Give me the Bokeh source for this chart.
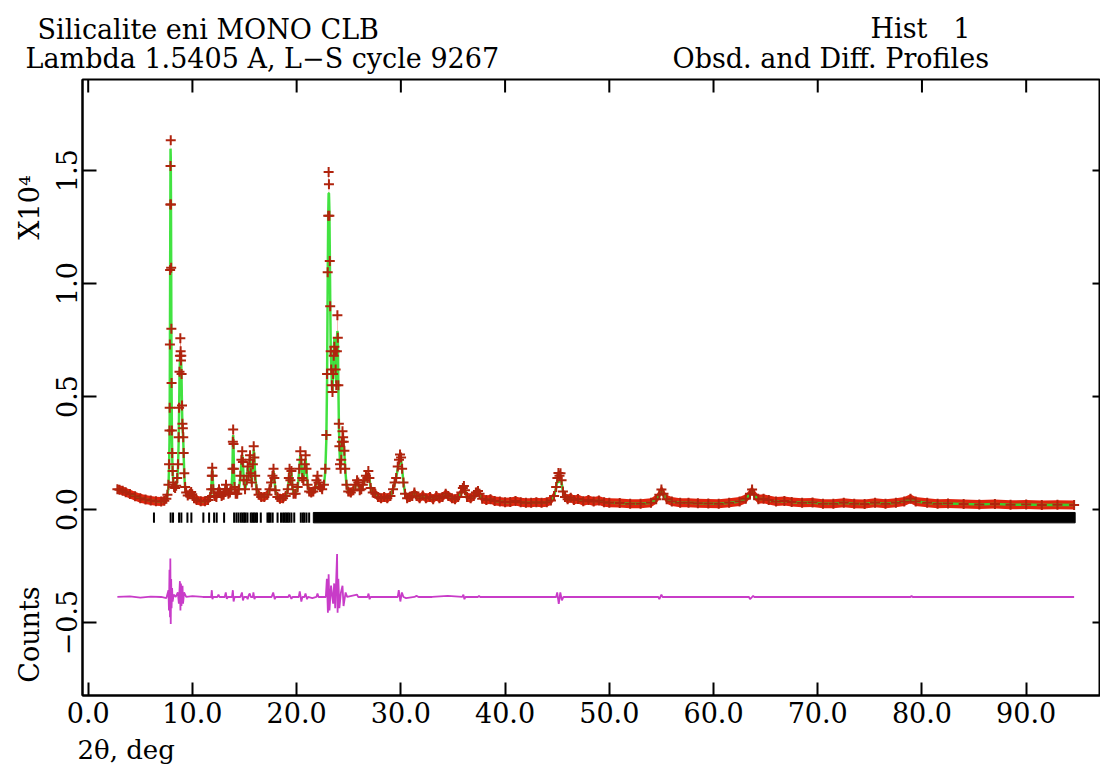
import math
from bokeh.plotting import figure
from bokeh.layouts import column, row
from bokeh.models import Range1d, FixedTicker, CustomJSTickFormatter
from bokeh.embed import file_html
from bokeh.resources import INLINE
from bokeh.core.properties import value

# ---------------- data (intensities in units of 10^4 counts) ----------------
two_theta = [2.80, 3.00, 3.30, 3.60, 4.00, 4.50, 5.00, 5.50, 6.00, 6.50, 7.00, 7.30, 7.50, 7.60, 7.70,
             7.76, 7.80, 7.82, 7.84, 7.86, 7.88, 7.90, 7.92, 7.94, 7.96, 7.98, 8.00, 8.03, 8.06, 8.10,
             8.16, 8.24, 8.34, 8.44, 8.54, 8.62, 8.68, 8.72, 8.76, 8.80, 8.84, 8.87, 8.90, 8.93, 8.96,
             9.00, 9.04, 9.08, 9.12, 9.16, 9.22, 9.30, 9.40, 9.55, 9.75, 9.88, 9.98, 10.15, 10.40, 10.80,
             11.20, 11.50, 11.70, 11.80, 11.86, 11.90, 11.94, 12.00, 12.10, 12.30, 12.45, 12.55, 12.65, 12.80, 13.00,
             13.15, 13.22, 13.30, 13.45, 13.60, 13.75, 13.84, 13.88, 13.91, 13.94, 13.98, 14.04, 14.15, 14.30, 14.45,
             14.60, 14.70, 14.78, 14.84, 14.92, 15.05, 15.20, 15.30, 15.40, 15.48, 15.53, 15.60, 15.70, 15.80, 15.88,
             15.94, 16.02, 16.15, 16.35, 16.60, 16.90, 17.20, 17.40, 17.55, 17.68, 17.78, 17.86, 17.96, 18.15, 18.40,
             18.70, 18.95, 19.15, 19.25, 19.32, 19.40, 19.50, 19.58, 19.70, 19.90, 20.10, 20.25, 20.35, 20.44, 20.54,
             20.65, 20.78, 20.86, 20.94, 21.05, 21.20, 21.40, 21.60, 21.78, 21.90, 22.00, 22.10, 22.25, 22.45, 22.62,
             22.75, 22.85, 22.92, 22.98, 23.03, 23.07, 23.10, 23.14, 23.18, 23.22, 23.27, 23.32, 23.38, 23.44, 23.50,
             23.56, 23.62, 23.68, 23.74, 23.80, 23.86, 23.91, 23.95, 24.00, 24.05, 24.10, 24.16, 24.22, 24.28, 24.34,
             24.40, 24.46, 24.52, 24.58, 24.66, 24.78, 24.95, 25.20, 25.45, 25.65, 25.80, 25.92, 26.05, 26.20, 26.35,
             26.50, 26.65, 26.78, 26.88, 26.98, 27.10, 27.30, 27.55, 27.80, 28.10, 28.40, 28.70, 29.00, 29.25, 29.40,
             29.55, 29.70, 29.82, 29.92, 30.02, 30.12, 30.25, 30.40, 30.60, 30.85, 31.10, 31.30, 31.50, 31.80, 32.10,
             32.40, 32.80, 33.10, 33.40, 33.70, 34.00, 34.30, 34.55, 34.90, 35.20, 35.50, 35.80, 35.95, 36.05, 36.15,
             36.35, 36.70, 37.00, 37.20, 37.40, 37.55, 37.80, 38.20, 38.60, 39.00, 39.50, 40.00, 40.50, 41.00, 41.50,
             42.00, 42.50, 43.00, 43.50, 44.00, 44.40, 44.70, 44.90, 45.02, 45.12, 45.22, 45.32, 45.42, 45.55, 45.75,
             46.00, 46.30, 46.60, 47.00, 47.50, 48.00, 48.50, 49.00, 49.50, 50.00, 51.00, 52.00, 53.00, 54.00, 54.50,
             54.80, 55.00, 55.20, 55.50, 56.00, 56.80, 57.60, 58.50, 59.50, 60.50, 61.50, 62.50, 63.10, 63.50, 63.70,
             63.90, 64.30, 64.80, 65.30, 66.00, 66.80, 67.50, 68.50, 69.50, 70.50, 71.50, 72.50, 73.50, 74.50, 75.50,
             76.50, 77.50, 78.30, 78.90, 79.40, 80.50, 81.50, 82.50, 84.00, 85.50, 87.00, 88.50, 90.00, 91.50, 93.00,
             94.60]

obs = [0.090, 0.088, 0.083, 0.077, 0.069, 0.059, 0.050, 0.044, 0.040, 0.037, 0.036, 0.039, 0.048, 0.065, 0.110,
       0.200, 0.350, 0.450, 0.730, 1.060, 1.350, 1.520, 1.634, 1.350, 1.070, 0.800, 0.560, 0.350, 0.250, 0.170,
       0.120, 0.100, 0.095, 0.105, 0.140, 0.200, 0.320, 0.450, 0.610, 0.680, 0.758, 0.700, 0.660, 0.680, 0.600,
       0.460, 0.380, 0.360, 0.320, 0.250, 0.160, 0.100, 0.075, 0.062, 0.070, 0.078, 0.068, 0.050, 0.042, 0.037,
       0.037, 0.042, 0.055, 0.090, 0.150, 0.185, 0.150, 0.090, 0.060, 0.055, 0.075, 0.090, 0.075, 0.060, 0.065,
       0.090, 0.110, 0.090, 0.070, 0.075, 0.090, 0.180, 0.300, 0.354, 0.290, 0.180, 0.100, 0.070, 0.070, 0.090,
       0.150, 0.220, 0.258, 0.210, 0.130, 0.090, 0.130, 0.190, 0.150, 0.220, 0.240, 0.160, 0.120, 0.200, 0.280,
       0.230, 0.150, 0.090, 0.065, 0.055, 0.055, 0.065, 0.090, 0.120, 0.150, 0.180, 0.140, 0.085, 0.055, 0.048,
       0.050, 0.060, 0.090, 0.140, 0.180, 0.130, 0.170, 0.110, 0.070, 0.070, 0.100, 0.180, 0.258, 0.220, 0.140,
       0.130, 0.200, 0.240, 0.180, 0.110, 0.080, 0.075, 0.080, 0.095, 0.130, 0.150, 0.120, 0.100, 0.090, 0.110,
       0.180, 0.330, 0.600, 1.050, 1.300, 1.494, 1.440, 1.300, 1.100, 0.900, 0.700, 0.620, 0.550, 0.520, 0.600,
       0.680, 0.720, 0.700, 0.620, 0.550, 0.700, 0.860, 0.760, 0.550, 0.380, 0.280, 0.200, 0.180, 0.220, 0.300,
       0.346, 0.320, 0.300, 0.260, 0.180, 0.110, 0.080, 0.075, 0.085, 0.110, 0.130, 0.120, 0.085, 0.090, 0.110,
       0.130, 0.150, 0.140, 0.170, 0.140, 0.095, 0.075, 0.070, 0.055, 0.050, 0.055, 0.050, 0.060, 0.090, 0.120,
       0.140, 0.190, 0.220, 0.244, 0.230, 0.180, 0.120, 0.070, 0.050, 0.055, 0.060, 0.075, 0.060, 0.050, 0.062,
       0.050, 0.055, 0.045, 0.060, 0.050, 0.055, 0.070, 0.060, 0.050, 0.045, 0.055, 0.075, 0.095, 0.104, 0.085,
       0.055, 0.050, 0.060, 0.075, 0.082, 0.070, 0.048, 0.042, 0.045, 0.038, 0.036, 0.032, 0.033, 0.038, 0.032,
       0.030, 0.030, 0.032, 0.030, 0.032, 0.040, 0.060, 0.100, 0.140, 0.162, 0.150, 0.160, 0.130, 0.080, 0.055,
       0.045, 0.052, 0.042, 0.047, 0.037, 0.042, 0.036, 0.040, 0.032, 0.030, 0.029, 0.026, 0.026, 0.030, 0.045,
       0.065, 0.089, 0.070, 0.045, 0.035, 0.030, 0.030, 0.028, 0.027, 0.026, 0.030, 0.035, 0.048, 0.070, 0.089,
       0.065, 0.045, 0.048, 0.042, 0.035, 0.038, 0.033, 0.030, 0.031, 0.026, 0.026, 0.030, 0.026, 0.025, 0.030,
       0.026, 0.030, 0.036, 0.048, 0.036, 0.030, 0.026, 0.027, 0.025, 0.022, 0.025, 0.021, 0.022, 0.020, 0.021,
       0.020]

calc = [0.088, 0.087, 0.083, 0.077, 0.069, 0.059, 0.050, 0.044, 0.040, 0.037, 0.036, 0.038, 0.046, 0.062, 0.100,
        0.190, 0.300, 0.420, 0.680, 1.000, 1.300, 1.597, 1.560, 1.380, 1.100, 0.780, 0.540, 0.340, 0.240, 0.170,
        0.120, 0.100, 0.095, 0.100, 0.130, 0.190, 0.300, 0.430, 0.580, 0.650, 0.690, 0.680, 0.660, 0.640, 0.570,
        0.450, 0.370, 0.340, 0.310, 0.240, 0.150, 0.095, 0.072, 0.060, 0.068, 0.075, 0.066, 0.050, 0.042, 0.037,
        0.037, 0.041, 0.053, 0.085, 0.145, 0.178, 0.150, 0.088, 0.058, 0.055, 0.072, 0.088, 0.075, 0.060, 0.063,
        0.088, 0.105, 0.090, 0.070, 0.072, 0.088, 0.170, 0.290, 0.330, 0.300, 0.180, 0.100, 0.070, 0.068, 0.088,
        0.140, 0.210, 0.240, 0.220, 0.130, 0.090, 0.120, 0.185, 0.150, 0.210, 0.230, 0.160, 0.115, 0.190, 0.265,
        0.230, 0.150, 0.090, 0.065, 0.055, 0.055, 0.065, 0.088, 0.115, 0.145, 0.170, 0.140, 0.085, 0.055, 0.048,
        0.050, 0.060, 0.088, 0.135, 0.170, 0.130, 0.165, 0.110, 0.070, 0.070, 0.095, 0.175, 0.240, 0.220, 0.140,
        0.130, 0.195, 0.225, 0.180, 0.110, 0.080, 0.075, 0.080, 0.090, 0.120, 0.130, 0.115, 0.100, 0.090, 0.105,
        0.170, 0.310, 0.570, 1.000, 1.300, 1.400, 1.400, 1.330, 1.150, 0.930, 0.720, 0.640, 0.560, 0.520, 0.620,
        0.700, 0.760, 0.720, 0.600, 0.560, 0.750, 0.790, 0.780, 0.560, 0.390, 0.280, 0.210, 0.190, 0.230, 0.290,
        0.320, 0.310, 0.280, 0.250, 0.180, 0.110, 0.080, 0.075, 0.085, 0.105, 0.125, 0.115, 0.085, 0.090, 0.105,
        0.125, 0.145, 0.140, 0.160, 0.140, 0.095, 0.075, 0.070, 0.055, 0.050, 0.055, 0.050, 0.058, 0.088, 0.115,
        0.140, 0.180, 0.200, 0.225, 0.220, 0.180, 0.120, 0.070, 0.050, 0.055, 0.058, 0.072, 0.060, 0.050, 0.060,
        0.050, 0.055, 0.045, 0.058, 0.050, 0.055, 0.068, 0.058, 0.050, 0.045, 0.055, 0.072, 0.090, 0.095, 0.085,
        0.055, 0.050, 0.060, 0.072, 0.080, 0.068, 0.048, 0.042, 0.045, 0.038, 0.036, 0.032, 0.033, 0.036, 0.032,
        0.030, 0.030, 0.032, 0.030, 0.032, 0.040, 0.058, 0.095, 0.130, 0.120, 0.125, 0.130, 0.120, 0.080, 0.055,
        0.045, 0.052, 0.042, 0.047, 0.037, 0.042, 0.036, 0.040, 0.032, 0.030, 0.029, 0.026, 0.026, 0.030, 0.045,
        0.062, 0.080, 0.068, 0.045, 0.035, 0.030, 0.030, 0.028, 0.027, 0.026, 0.030, 0.035, 0.048, 0.068, 0.082,
        0.063, 0.045, 0.048, 0.042, 0.035, 0.038, 0.033, 0.030, 0.031, 0.026, 0.026, 0.030, 0.026, 0.025, 0.030,
        0.026, 0.030, 0.036, 0.046, 0.036, 0.030, 0.026, 0.027, 0.025, 0.022, 0.025, 0.021, 0.022, 0.020, 0.021,
        0.020]

# difference curve (obs - calc)
diff_two_theta = [2.8, 4.0, 5.0, 6.0, 7.0, 7.5, 7.70, 7.75, 7.80, 7.85, 7.88, 7.92, 7.96, 8.00, 8.05,
                  8.10, 8.20, 8.40, 8.60, 8.70, 8.80, 8.85, 8.90, 8.95, 9.05, 9.10, 9.20, 9.40, 10.0, 11.0,
                  11.80, 11.86, 11.92, 12.00, 12.40, 12.50, 12.60, 13.10, 13.20, 13.30, 13.40, 13.80, 13.88, 13.95, 14.05,
                  14.60, 14.75, 14.85, 14.95, 15.20, 15.30, 15.40, 15.50, 15.60, 15.80, 15.85, 15.95, 16.05, 17.60, 17.75,
                  17.90, 18.00, 19.20, 19.30, 19.50, 19.60, 20.20, 20.30, 20.45, 20.55, 20.75, 20.85, 21.00, 21.10, 21.50,
                  21.90, 22.00, 22.10, 22.80, 22.90, 23.00, 23.07, 23.15, 23.30, 23.50, 23.60, 23.70, 23.88, 23.93, 24.00,
                  24.10, 24.25, 24.40, 24.50, 24.70, 24.85, 25.80, 25.90, 26.80, 26.90, 27.00, 27.10, 29.70, 29.80, 29.95,
                  30.10, 30.25, 30.50, 31.30, 31.50, 31.70, 33.00, 34.50, 35.90, 36.00, 36.10, 36.20, 37.40, 37.50, 37.60,
                  44.90, 45.00, 45.15, 45.30, 45.45, 45.60, 54.70, 54.80, 55.00, 55.10, 63.40, 63.50, 63.80, 63.90, 78.90,
                  79.00, 79.10, 94.60]
diff_vals = [0.000, 0.003, -0.003, 0.002, 0.000, -0.005, 0.030, -0.060, 0.120, -0.090, 0.170, -0.120, 0.080, -0.050, 0.040,
             -0.020, 0.010, 0.000, 0.020, -0.030, 0.070, -0.060, 0.060, -0.040, 0.050, -0.030, 0.020, 0.000, 0.004, 0.000,
             0.000, 0.030, -0.010, 0.000, 0.000, 0.010, 0.000, 0.000, 0.020, -0.008, 0.000, 0.000, 0.030, -0.020, 0.000,
             0.000, 0.020, -0.015, 0.000, 0.000, -0.010, 0.008, 0.015, 0.000, 0.000, 0.020, -0.010, 0.000, 0.000, 0.020,
             -0.010, 0.000, 0.000, 0.010, -0.008, 0.000, 0.000, 0.025, -0.020, 0.000, 0.000, 0.015, -0.010, 0.000, -0.005,
             0.000, 0.015, 0.000, 0.000, 0.080, -0.070, 0.100, -0.060, 0.050, -0.030, 0.060, -0.050, 0.190, -0.070, 0.080,
             -0.050, 0.020, 0.050, -0.040, 0.020, 0.000, 0.010, 0.000, 0.000, 0.015, -0.010, 0.000, 0.000, 0.030, -0.020,
             0.020, 0.000, -0.005, 0.000, 0.005, 0.000, 0.000, 0.005, 0.000, 0.010, -0.010, 0.000, 0.000, 0.005, 0.000,
             0.000, 0.020, -0.030, 0.020, -0.015, 0.000, 0.000, -0.010, 0.010, 0.000, 0.000, -0.010, 0.005, 0.000, 0.000,
             0.005, 0.000, 0.000]

# reflection positions (individual ticks) and the dense, merged region
refl_positions = [6.31, 7.91, 8.14, 8.72, 8.94, 9.52, 9.90, 11.05, 11.60, 12.08, 12.33, 13.04,
                  14.00, 14.22, 14.42, 14.64, 14.80, 14.96, 15.10, 15.28, 15.60, 15.75, 15.90, 16.05,
                  16.20, 16.56, 17.20, 17.35, 17.50, 17.70, 18.17, 18.50, 18.70, 18.85, 19.00, 19.15,
                  19.30, 19.50, 19.77, 20.40, 20.60, 20.75, 20.95, 21.20]
refl_dense_start = [21.6]
refl_dense_end = [94.7]

x_ticks = [0, 10, 20, 30, 40, 50, 60, 70, 80, 90]
x_tick_labels = ["0.0", "10.0", "20.0", "30.0", "40.0", "50.0", "60.0", "70.0", "80.0", "90.0"]
y_ticks = [-0.5, 0.0, 0.5, 1.0, 1.5]
y_tick_labels = ["\u22120.5", "0.0", "0.5", "1.0", "1.5"]

title_left = ["Silicalite eni MONO CLB", "Lambda 1.5405 A, L\u2212S cycle 9267"]
title_right = ["Hist\u00a0\u00a0 1", "Obsd. and Diff. Profiles"]
y_titles = ["X10\u2074", "Counts"]
x_title = "2\u03b8, deg"

# ---------------- layout / style constants ----------------
FONT = "DejaVu Serif"
FS = "27px"
W, H = 1100, 765
HEAD_H, LEFT_W = 76, 45
BORDER_T, BORDER_B, BORDER_L = 3, 39, 37
FRAME_T, FRAME_B = HEAD_H + BORDER_T, HEAD_H + BORDER_T + 616   # page rows of the plot frame
MAIN_H = BORDER_T + 616 + BORDER_B
X0 = -0.547
PXD = 10.422                      # px per degree
X1 = X0 + 1018 / PXD
Y0, Y1 = -0.823, 1.903
PXU = 616 / (Y1 - Y0)             # px per 10^4 counts
DIFF_OFFSET = -0.387
REFL_TOP, REFL_BOTTOM = -0.013, -0.059
BAND_HALF = 4.5 / PXU             # half height of the observed-point band


def blank(width, height, xr, yr):
    f = figure(width=width, height=height, x_range=Range1d(*xr), y_range=Range1d(*yr),
               x_axis_type=None, y_axis_type=None, output_backend="svg", toolbar_location=None,
               min_border=0, min_border_left=0, min_border_right=0, min_border_top=0, min_border_bottom=0)
    f.outline_line_color = None
    f.grid.visible = False
    f.background_fill_color = "white"
    f.border_fill_color = "white"
    return f


# ---------- header (two title lines, y = page row of the text middle) ----------
head = blank(W, HEAD_H, (0, W), (HEAD_H, 0))
head.text(x=[37, 25], y=[29, 58], text=title_left, text_font=value(FONT), text_font_size=value(FS),
          text_align="left", text_baseline="middle", text_color="black")
head.text(x=[870, 672], y=[28, 58], text=title_right, text_font=value(FONT), text_font_size=value(FS),
          text_align="left", text_baseline="middle", text_color="black")

# ---------- left strip (rotated axis titles); its frame is aligned with the plot frame ----------
left = blank(LEFT_W, MAIN_H, (0, LEFT_W), (FRAME_B, FRAME_T))
left.text(x=[29, 29], y=[207, 634], text=y_titles, angle=math.pi / 2, text_font=value(FONT),
          text_font_size=value(FS), text_align="center", text_baseline="middle", text_color="black")

# ---------- main plot ----------
p = figure(width=W - LEFT_W, height=MAIN_H, x_range=Range1d(X0, X1), y_range=Range1d(Y0, Y1),
           output_backend="svg", toolbar_location=None,
           min_border_left=BORDER_L, min_border_right=0, min_border_top=BORDER_T, min_border_bottom=BORDER_B)
p.outline_line_color = "black"
p.outline_line_width = 2
p.grid.visible = False
p.background_fill_color = "white"
p.border_fill_color = "white"

LOOKUP = ("const i = tick_vals.findIndex(t => Math.abs(t - tick) < 1e-9); "
          "return i >= 0 ? tick_text[i] : '';")
for ax, tv, tl, tin in ((p.xaxis[0], x_ticks, x_tick_labels, 13), (p.yaxis[0], y_ticks, y_tick_labels, 14)):
    ax.ticker = FixedTicker(ticks=tv)
    ax.formatter = CustomJSTickFormatter(args=dict(tick_vals=tv, tick_text=tl), code=LOOKUP)
    ax.axis_line_width = 2
    ax.axis_line_color = "black"
    ax.major_tick_in = tin
    ax.major_tick_out = 0
    ax.major_tick_line_width = 2
    ax.minor_tick_line_color = None
    ax.major_label_text_font = FONT
    ax.major_label_text_font_size = FS
    ax.major_label_text_color = "black"
p.xaxis[0].major_label_standoff = 6
p.yaxis[0].major_label_orientation = "vertical"
p.yaxis[0].major_label_standoff = 5

# inward ticks on the top and right edges of the frame
p.segment(x0=x_ticks, y0=[Y1] * len(x_ticks), x1=x_ticks, y1=[Y1 - 13 / PXU] * len(x_ticks),
          line_color="black", line_width=2)
p.segment(x0=[X1] * len(y_ticks), y0=y_ticks, x1=[X1 - 8 / PXD] * len(y_ticks), y1=y_ticks,
          line_color="black", line_width=2)

# observed points form a red band, calculated profile in green, '+' marks on top
p.varea(x=two_theta, y1=[v - BAND_HALF for v in obs], y2=[v + BAND_HALF for v in obs],
        fill_color="#e2240e")
p.line(two_theta, calc, line_color="#2ee02e", line_width=2.5, line_alpha=0.9)
p.scatter(two_theta, obs, marker="cross", size=10, line_color="#b0240e", line_width=2)

# reflection markers
p.segment(x0=refl_positions, y0=[REFL_TOP] * len(refl_positions),
          x1=refl_positions, y1=[REFL_BOTTOM] * len(refl_positions),
          line_color="black", line_width=2)
p.quad(left=refl_dense_start, right=refl_dense_end, top=[REFL_TOP], bottom=[REFL_BOTTOM],
       fill_color="black", line_color="black")

# difference curve
p.line(diff_two_theta, [d + DIFF_OFFSET for d in diff_vals], line_color="#c83cc8", line_width=1.8)

# ---------- footer (x-axis title) ----------
FOOT_H = H - HEAD_H - MAIN_H
FOOT_TOP = HEAD_H + MAIN_H
foot = blank(W, FOOT_H, (0, W), (H, FOOT_TOP))
foot.text(x=[77], y=[FOOT_TOP + FOOT_H / 2], text=[x_title], text_font=value(FONT), text_font_size=value("26px"),
          text_align="left", text_baseline="middle", text_color="black")

layout = column(head, row(left, p, spacing=0), foot, spacing=0)
open("out.html", "w").write(file_html(layout, INLINE))
